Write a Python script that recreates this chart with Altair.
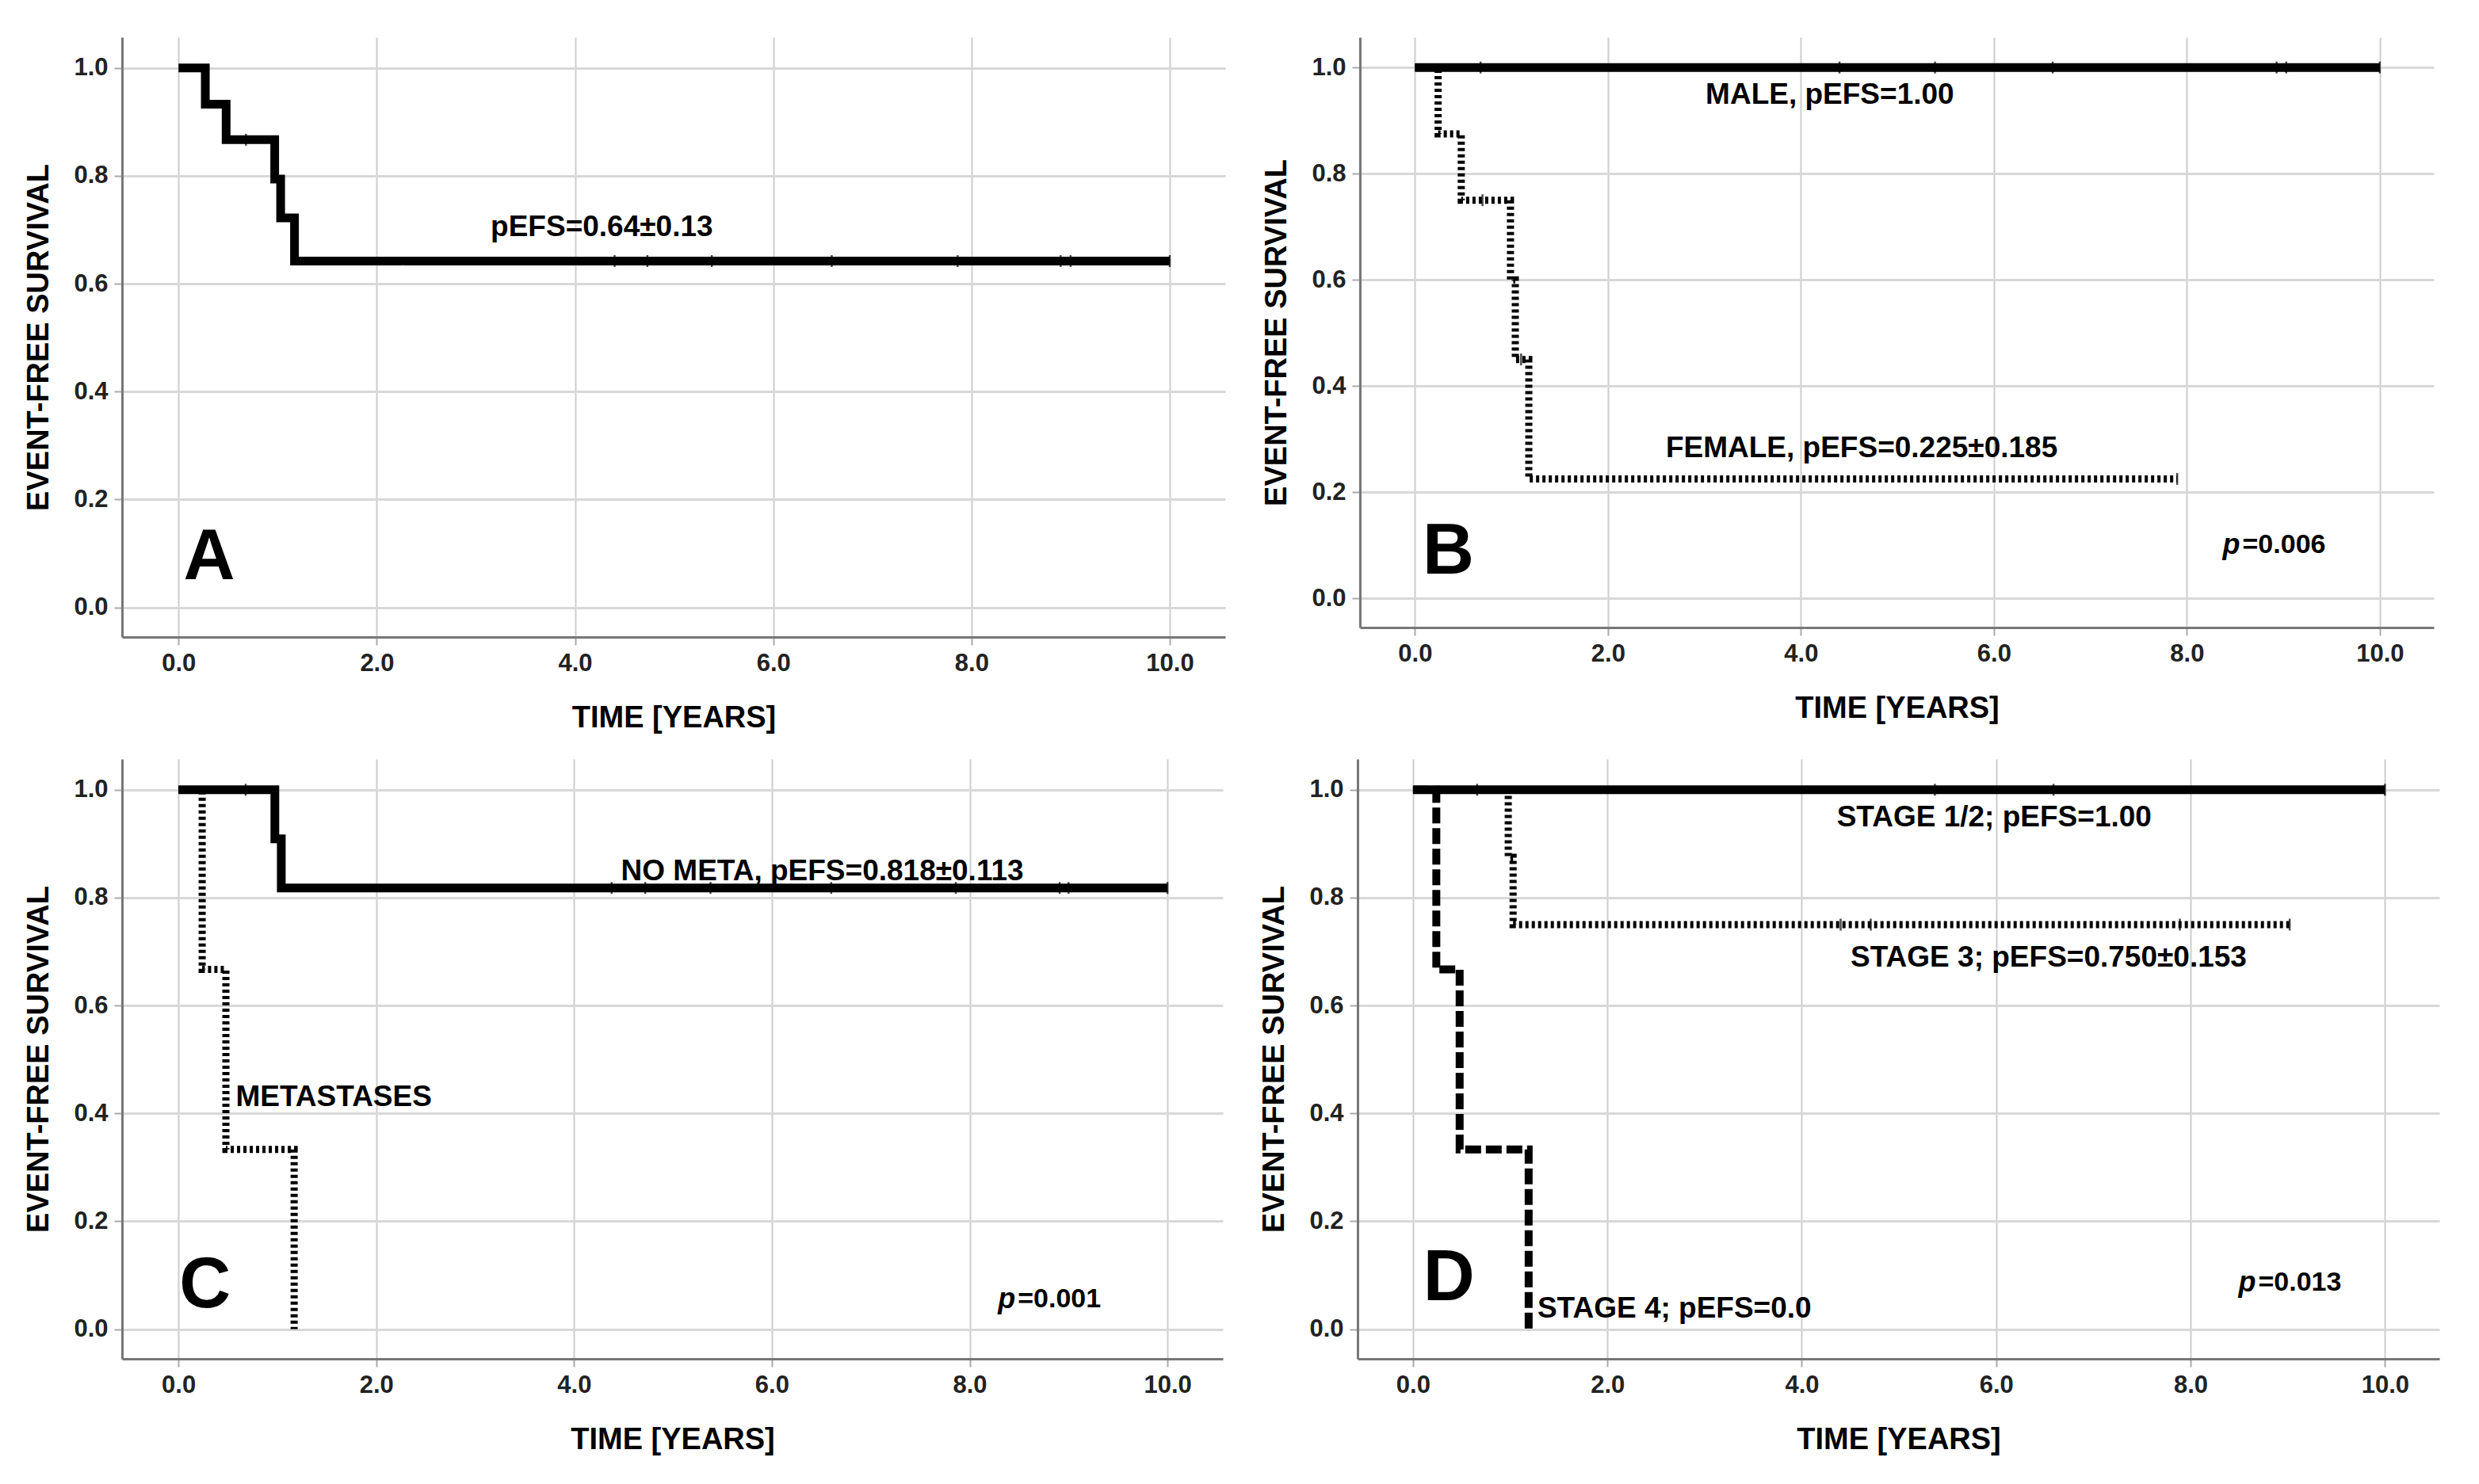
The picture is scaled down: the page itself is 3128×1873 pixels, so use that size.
import altair as alt
import pandas as pd

FONT = "Liberation Sans"

# ---------------- data ----------------
# Panel A: all patients
A_all_t = [0.0, 0.27, 0.48, 0.97, 1.03, 1.17, 10.0]
A_all_s = [1.0, 0.933, 0.867, 0.794, 0.722, 0.642, 0.642]
A_cens_t = [0.68, 4.40, 4.73, 5.38, 6.59, 7.86, 8.90, 9.00, 10.0]
A_cens_s = [0.867, 0.642, 0.642, 0.642, 0.642, 0.642, 0.642, 0.642, 0.642]

# Panel B: sex
B_male_t = [0.0, 10.0]
B_male_s = [1.0, 1.0]
B_female_t = [0.0, 0.24, 0.48, 0.99, 1.04, 1.18, 7.9]
B_female_s = [1.0, 0.875, 0.75, 0.60, 0.45, 0.225, 0.225]
B_cens_t = [0.68, 4.40, 5.39, 6.61, 8.93, 9.03, 10.0, 0.70, 1.10, 7.9]
B_cens_s = [1.0, 1.0, 1.0, 1.0, 1.0, 1.0, 1.0, 0.75, 0.45, 0.225]

# Panel C: metastases
C_nometa_t = [0.0, 0.975, 1.04, 10.0]
C_nometa_s = [1.0, 0.909, 0.818, 0.818]
C_meta_t = [0.0, 0.24, 0.48, 1.17]
C_meta_s = [1.0, 0.667, 0.333, 0.0]
C_cens_t = [0.68, 4.38, 4.72, 5.38, 6.60, 7.86, 8.91, 9.00, 10.0]
C_cens_s = [1.0, 0.818, 0.818, 0.818, 0.818, 0.818, 0.818, 0.818, 0.818]

# Panel D: stage
D_st12_t = [0.0, 10.0]
D_st12_s = [1.0, 1.0]
D_st3_t = [0.0, 0.98, 1.03, 9.02]
D_st3_s = [1.0, 0.875, 0.75, 0.75]
D_st4_t = [0.0, 0.24, 0.48, 1.19]
D_st4_s = [1.0, 0.667, 0.333, 0.0]
D_cens_t = [0.66, 5.37, 6.59, 10.0, 4.40, 4.71, 7.89, 9.02]
D_cens_s = [1.0, 1.0, 1.0, 1.0, 0.75, 0.75, 0.75, 0.75]

# annotation texts
A_notes = ["pEFS=0.64±0.13"]
A_notes_t = [4.27]
A_notes_s = [0.705]

B_notes = ["MALE, pEFS=1.00", "FEMALE, pEFS=0.225±0.185"]
B_notes_t = [4.30, 4.63]
B_notes_s = [0.948, 0.283]

C_notes = ["NO META, pEFS=0.818±0.113"]
C_notes_t = [6.51]
C_notes_s = [0.848]
C_notes_left = ["METASTASES"]
C_notes_left_t = [0.58]
C_notes_left_s = [0.43]

D_notes = ["STAGE 1/2; pEFS=1.00", "STAGE 3; pEFS=0.750±0.153"]
D_notes_t = [5.98, 6.54]
D_notes_s = [0.948, 0.689]
D_notes_left = ["STAGE 4; pEFS=0.0"]
D_notes_left_t = [1.28]
D_notes_left_s = [0.037]

LETTERS = ["A", "B", "C", "D"]
LETTER_T = [0.31, 0.345, 0.27, 0.37]
LETTER_S = [0.092, 0.087, 0.08, 0.093]

PVALS = ["", "=0.006", "=0.001", "=0.013"]
PVAL_T = [0, 8.56, 8.47, 8.68]
PVAL_S = [0, 0.10, 0.055, 0.086]

X_TICKS = [0.0, 2.0, 4.0, 6.0, 8.0, 10.0]
Y_TICKS = [0.0, 0.2, 0.4, 0.6, 0.8, 1.0]

# ---------------- styling ----------------
XDOM = [-0.57, 10.56]
YDOM = [-0.055, 1.057]
STYLES = {
    "solid": ([1, 0], 11),
    "dotted": ([4, 4], 9),
    "dashed": ([20, 6], 10),
}

x_axis = alt.Axis(
    title="TIME [YEARS]", values=X_TICKS, format=".1f", grid=True,
    gridColor="#cdcdcd", gridWidth=2, domainColor="#777777", domainWidth=3,
    tickColor="#aaaaaa", tickSize=10, tickWidth=2,
    labelFont=FONT, labelFontSize=31, labelFontWeight="bold", labelColor="#222222",
    labelPadding=8, titleFont=FONT, titleFontSize=38, titleFontWeight="bold",
    titleColor="black", titlePadding=35,
)
y_axis = alt.Axis(
    title="EVENT-FREE SURVIVAL", values=Y_TICKS, format=".1f", grid=True,
    gridColor="#d8d8d8", gridWidth=3, domainColor="#777777", domainWidth=3,
    tickColor="#aaaaaa", tickSize=10, tickWidth=2,
    labelFont=FONT, labelFontSize=31, labelFontWeight="bold", labelColor="#222222",
    labelPadding=8, titleFont=FONT, titleFontSize=38, titleFontWeight="bold",
    titleColor="black", titlePadding=24,
)
X_ENC = alt.X("t:Q", scale=alt.Scale(domain=XDOM, nice=False, zero=False), axis=x_axis)
Y_ENC = alt.Y("s:Q", scale=alt.Scale(domain=YDOM, nice=False, zero=False), axis=y_axis)


def text_layer(labels, ts, ss, align="center", size=37, style="normal", dx=0):
    df = pd.DataFrame({"t": ts, "s": ss, "label": labels})
    return alt.Chart(df).mark_text(
        font=FONT, fontSize=size, fontWeight="bold", fontStyle=style,
        align=align, baseline="middle", color="black", dx=dx,
    ).encode(x=X_ENC, y=Y_ENC, text="label:N")


def panel(series, cens_t, cens_s, notes, idx, w, h):
    layers = []
    for t, s, style in series:
        dash, sw = STYLES[style]
        df = pd.DataFrame({"t": t, "s": s})
        layers.append(
            alt.Chart(df).mark_line(
                interpolate="step-after", color="black", strokeWidth=sw,
                strokeDash=dash, strokeCap="butt", clip=True,
            ).encode(x=X_ENC, y=Y_ENC)
        )
    cdf = pd.DataFrame({"t": cens_t, "s": cens_s})
    layers.append(
        alt.Chart(cdf).mark_tick(orient="vertical", size=15, thickness=2.5, color="black")
        .encode(x=X_ENC, y=Y_ENC)
    )
    for labels, ts, ss, align in notes:
        layers.append(text_layer(labels, ts, ss, align=align))
    layers.append(text_layer([LETTERS[idx]], [LETTER_T[idx]], [LETTER_S[idx]], size=90))
    if PVALS[idx]:
        layers.append(text_layer(["p"], [PVAL_T[idx]], [PVAL_S[idx]], align="right",
                                 size=36, style="italic", dx=-1))
        layers.append(text_layer([PVALS[idx]], [PVAL_T[idx]], [PVAL_S[idx]], align="left",
                                 size=34, dx=2))
    return alt.layer(*layers).properties(width=w, height=h)


pA = panel([(A_all_t, A_all_s, "solid")], A_cens_t, A_cens_s,
           [(A_notes, A_notes_t, A_notes_s, "center")], 0, 1392, 757)
pB = panel([(B_female_t, B_female_s, "dotted"), (B_male_t, B_male_s, "solid")],
           B_cens_t, B_cens_s,
           [(B_notes, B_notes_t, B_notes_s, "center")], 1, 1355, 745)
pC = panel([(C_meta_t, C_meta_s, "dotted"), (C_nometa_t, C_nometa_s, "solid")],
           C_cens_t, C_cens_s,
           [(C_notes, C_notes_t, C_notes_s, "center"),
            (C_notes_left, C_notes_left_t, C_notes_left_s, "left")], 2, 1389, 757)
pD = panel([(D_st4_t, D_st4_s, "dashed"), (D_st3_t, D_st3_s, "dotted"),
            (D_st12_t, D_st12_s, "solid")],
           D_cens_t, D_cens_s,
           [(D_notes, D_notes_t, D_notes_s, "center"),
            (D_notes_left, D_notes_left_t, D_notes_left_s, "left")], 3, 1365, 757)

chart = alt.vconcat(
    alt.hconcat(pA, pB, spacing=46),
    alt.hconcat(pC, pD, spacing=46),
    spacing=33,
).properties(
    padding={"left": 22, "top": 39, "right": 5, "bottom": 5},
    background="white",
).configure_view(strokeWidth=0)

chart.save("out.html", embed_options={"renderer": "svg", "actions": False})
